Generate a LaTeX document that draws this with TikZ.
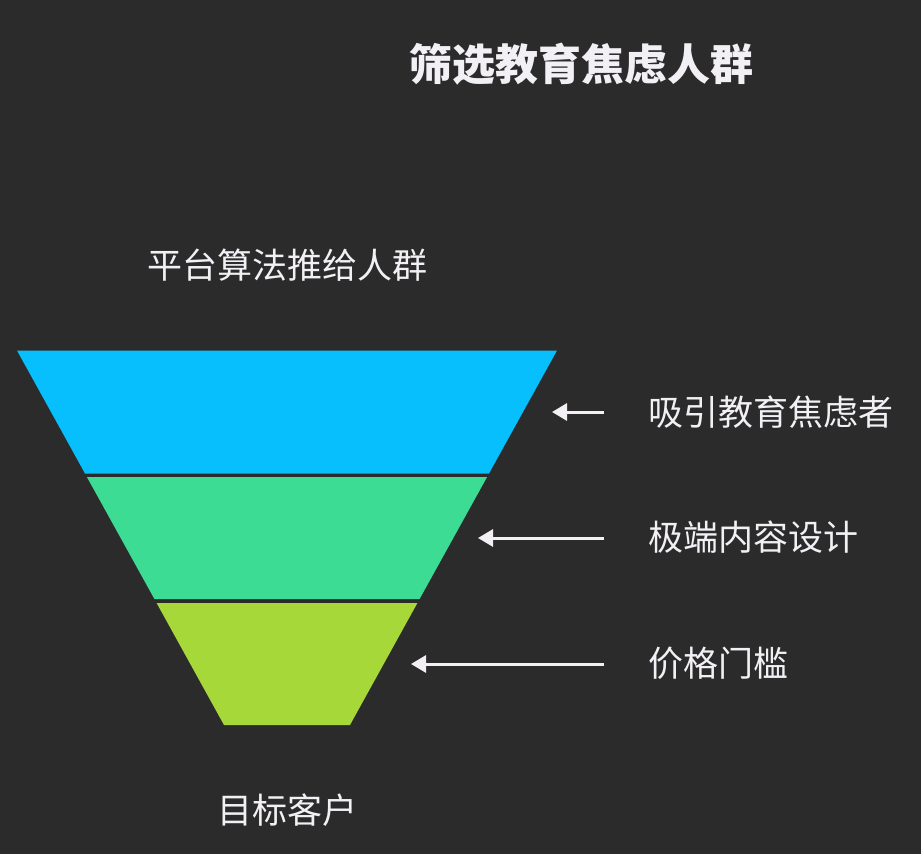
\documentclass[tikz,border=0pt]{standalone}
\usepackage{fontspec}
\newfontfamily\cjk{Noto Sans CJK SC}
\usetikzlibrary{arrows.meta}
\definecolor{bg}{RGB}{43,43,43}
\definecolor{fgtext}{RGB}{242,240,244}
\definecolor{bandA}{RGB}{7,191,252}
\definecolor{bandB}{RGB}{60,220,148}
\definecolor{bandC}{RGB}{166,216,58}
\tikzset{
  lbl/.style={inner sep=0pt, text=fgtext, font=\cjk\fontsize{35}{40}\selectfont},
  ttl/.style={inner sep=0pt, text=fgtext, font=\cjk\bfseries\fontsize{43}{48}\selectfont},
  pointer/.style={draw=fgtext, line width=3pt, -{Triangle[length=15pt,width=17pt]}},
}
\begin{document}
\begin{tikzpicture}[x=1pt,y=-1pt]
\fill[bg] (0,0) rectangle (921,854);
\useasboundingbox (0,0) rectangle (921,854);
% funnel bands
\fill[bandA] (17,350.5) -- (557,350.5) -- (489,473.5) -- (85,473.5) -- cycle;
\fill[bandB] (86.9,477) -- (487.1,477) -- (419.6,599) -- (154.4,599) -- cycle;
\fill[bandC] (156.6,603) -- (417.4,603) -- (350,725) -- (224,725) -- cycle;
% texts
\node[ttl, anchor=base] (title) at (581,80) {筛选教育焦虑人群};
\node[lbl, anchor=base] (top) at (287.5,278) {平台算法推给人群};
\node[lbl, anchor=base] (bottom) at (287,823) {目标客户};
\node[lbl, anchor=base west] (l1) at (648,425) {吸引教育焦虑者};
\node[lbl, anchor=base west] (l2) at (648,550) {极端内容设计};
\node[lbl, anchor=base west] (l3) at (648,676) {价格门槛};
% arrows
\coordinate (s1) at (604,412); \coordinate (t1) at (552,412);
\coordinate (s2) at (604,538); \coordinate (t2) at (478,538);
\coordinate (s3) at (604,664); \coordinate (t3) at (411,664);
\draw[pointer] (s1) -- (t1);
\draw[pointer] (s2) -- (t2);
\draw[pointer] (s3) -- (t3);
\end{tikzpicture}
\end{document}
